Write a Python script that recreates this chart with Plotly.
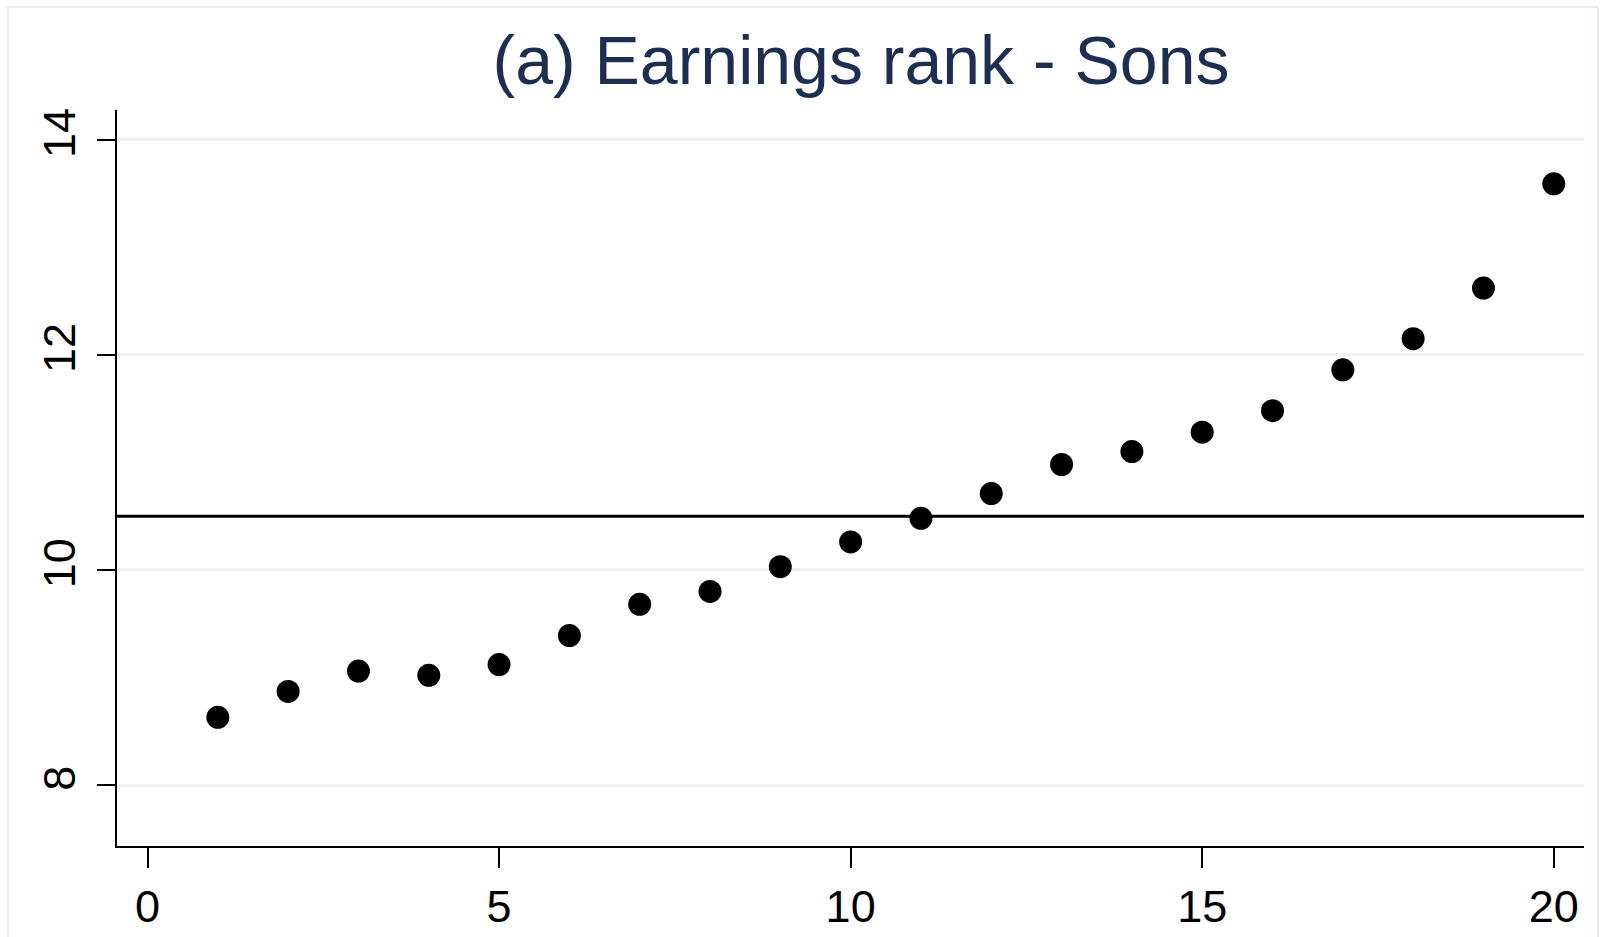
import plotly.graph_objects as go

# Data
ventiles = list(range(1, 21))
earnings_rank = [8.63, 8.87, 9.06, 9.02, 9.12, 9.39, 9.68, 9.80, 10.03, 10.26,
                 10.48, 10.71, 10.98, 11.10, 11.28, 11.48, 11.86, 12.15, 12.62, 13.59]
mean_line = 10.50
x_ticks = [0, 5, 10, 15, 20]
y_ticks = [8, 10, 12, 14]
title_text = "(a) Earnings rank - Sons"

FONT = "Liberation Sans, Arial, sans-serif"

fig = go.Figure()
fig.add_trace(go.Scatter(
    x=ventiles, y=earnings_rank, mode="markers",
    marker=dict(color="black", size=23, line=dict(width=0)),
    showlegend=False, hoverinfo="x+y",
))

fig.add_shape(type="line", xref="paper", x0=0, x1=1, yref="y",
              y0=mean_line, y1=mean_line, line=dict(color="black", width=3), layer="above")

# light outer frame of graph region
fig.add_shape(type="rect", xref="paper", yref="paper",
              x0=-109/1467, x1=(1598-117)/1467, y0=-0.2, y1=(846-7)/736,
              line=dict(color="#e8eef5", width=2), layer="below")

fig.update_layout(
    width=1600, height=937,
    margin=dict(l=117, r=16, t=110, b=91, autoexpand=False),
    paper_bgcolor="white", plot_bgcolor="white",
    title=dict(text=title_text, x=861/1600, xanchor="center", y=1-84/937, yanchor="bottom",
               font=dict(family=FONT, size=68, color="#1c2e52")),
    xaxis=dict(range=[-0.434, 20.43], tickvals=x_ticks, ticks="outside", ticklen=20,
               tickwidth=2, tickcolor="black", showline=True, linecolor="black", linewidth=2,
               showgrid=False, zeroline=False, automargin=False,
               tickfont=dict(family=FONT, size=45, color="black")),
    yaxis=dict(range=[7.433, 14.276], tickvals=y_ticks, ticks="outside", ticklen=18,
               tickwidth=2, tickcolor="black", showline=True, linecolor="black", linewidth=2,
               showgrid=True, gridcolor="#edf1f7", gridwidth=3, zeroline=False,
               tickangle=-90, automargin=False, ticklabelstandoff=4,
               tickfont=dict(family=FONT, size=45, color="black")),
)

fig.write_html("out.html", config={"displayModeBar": False},
               post_script="document.body.style.margin='0';document.body.style.overflow='hidden';")
